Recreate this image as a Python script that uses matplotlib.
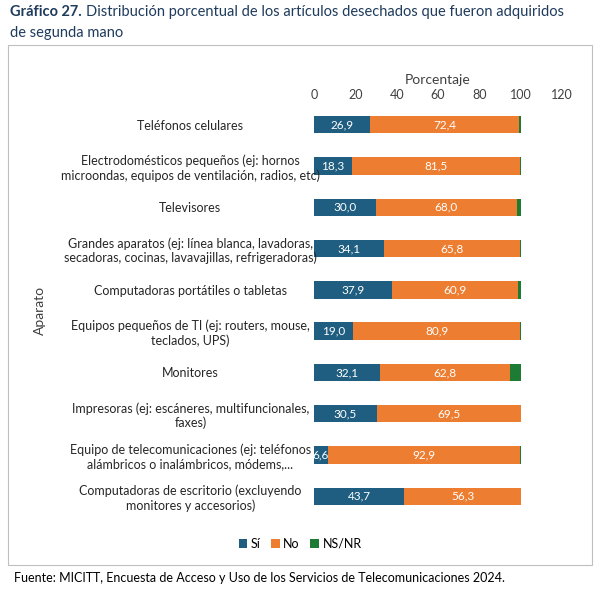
import matplotlib
matplotlib.use("Agg")
import matplotlib.pyplot as plt
from matplotlib.patches import Rectangle
import numpy as np

plt.rcParams['font.family'] = ['Lato', 'DejaVu Sans']

categories = [
    "Teléfonos celulares",
    "Electrodomésticos pequeños (ej: hornos\nmicroondas, equipos de ventilación, radios, etc)",
    "Televisores",
    "Grandes aparatos (ej: línea blanca, lavadoras,\nsecadoras, cocinas, lavavajillas, refrigeradoras)",
    "Computadoras portátiles o tabletas",
    "Equipos pequeños de TI (ej: routers, mouse,\nteclados, UPS)",
    "Monitores",
    "Impresoras (ej: escáneres, multifuncionales,\nfaxes)",
    "Equipo de telecomunicaciones (ej: teléfonos\nalámbricos o inalámbricos, módems,...",
    "Computadoras de escritorio (excluyendo\nmonitores y accesorios)",
]
si = [26.9, 18.3, 30.0, 34.1, 37.9, 19.0, 32.1, 30.5, 6.6, 43.7]
no = [72.4, 81.5, 68.0, 65.8, 60.9, 80.9, 62.8, 69.5, 92.9, 56.3]
nsnr = [0.7, 0.2, 2.0, 0.1, 1.2, 0.1, 5.1, 0.0, 0.5, 0.0]
xticks = [0, 20, 40, 60, 80, 100, 120]

c_si, c_no, c_ns = "#1F5E80", "#ED7D31", "#1E7B34"

fig = plt.figure(figsize=(6.0, 5.93), dpi=100)
fig.patches.append(Rectangle((8/600, 1-565/593), 584/600, 520/593, transform=fig.transFigure,
                             fill=False, edgecolor="#BFBFBF", linewidth=0.8))
ax = fig.add_axes([314/600, 1-517/593, 248/600, 413/593])
y = np.arange(len(categories))
h = 0.42
si_a, no_a, ns_a = np.array(si), np.array(no), np.array(nsnr)
b1 = ax.barh(y, si_a, height=h, color=c_si, label="Sí")
b2 = ax.barh(y, no_a, left=si_a, height=h, color=c_no, label="No")
b3 = ax.barh(y, ns_a, left=si_a+no_a, height=h, color=c_ns, label="NS/NR")
fmt = lambda v: f"{v:.1f}".replace(".", ",")
for i in range(len(y)):
    ax.text(si_a[i]/2, y[i], fmt(si_a[i]), ha="center", va="center", color="white", fontsize=8.5)
    ax.text(si_a[i]+no_a[i]/2, y[i], fmt(no_a[i]), ha="center", va="center", color="white", fontsize=8.5)
ax.set_xlim(0, 120)
ax.set_ylim(len(categories)-0.5, -0.5)
ax.set_xticks(xticks)
ax.xaxis.tick_top()
ax.xaxis.set_label_position("top")
ax.tick_params(axis="x", length=0, labelsize=9, colors="#404040", pad=2)
ax.set_yticks(y)
ax.set_yticklabels(categories, ha="center")
ax.tick_params(axis="y", length=0, labelsize=9, colors="#262626", pad=89)
for s in ax.spines.values():
    s.set_visible(False)
ax.set_xlabel("Porcentaje", fontsize=10, color="#404040", labelpad=4)
fig.text(40/600, 1-310/593, "Aparato", rotation=90, ha="center", va="center", fontsize=10, color="#404040")
fig.legend(handles=[b1, b2, b3], loc="center", bbox_to_anchor=(0.5, 1-544/593), ncol=3,
           frameon=False, fontsize=9, handlelength=0.7, handleheight=0.7, columnspacing=0.8, handletextpad=0.3)

t1 = fig.text(10/600, 1-12/593, "Gráfico 27.", fontsize=10.5, fontweight="bold", color="#1F3B5C", va="center")
fig.canvas.draw()
bb = t1.get_window_extent()
fig.text(bb.x1/600 + 4/600, 1-12/593, "Distribución porcentual de los artículos desechados que fueron adquiridos",
         fontsize=10.5, color="#1F3B5C", va="center")
fig.text(10/600, 1-33/593, "de segunda mano", fontsize=10.5, color="#1F3B5C", va="center")
fig.text(14/600, 1-578/593, "Fuente: MICITT, Encuesta de Acceso y Uso de los Servicios de Telecomunicaciones 2024.",
         fontsize=9, color="black", va="center")
fig.savefig("out.png", dpi=100)
